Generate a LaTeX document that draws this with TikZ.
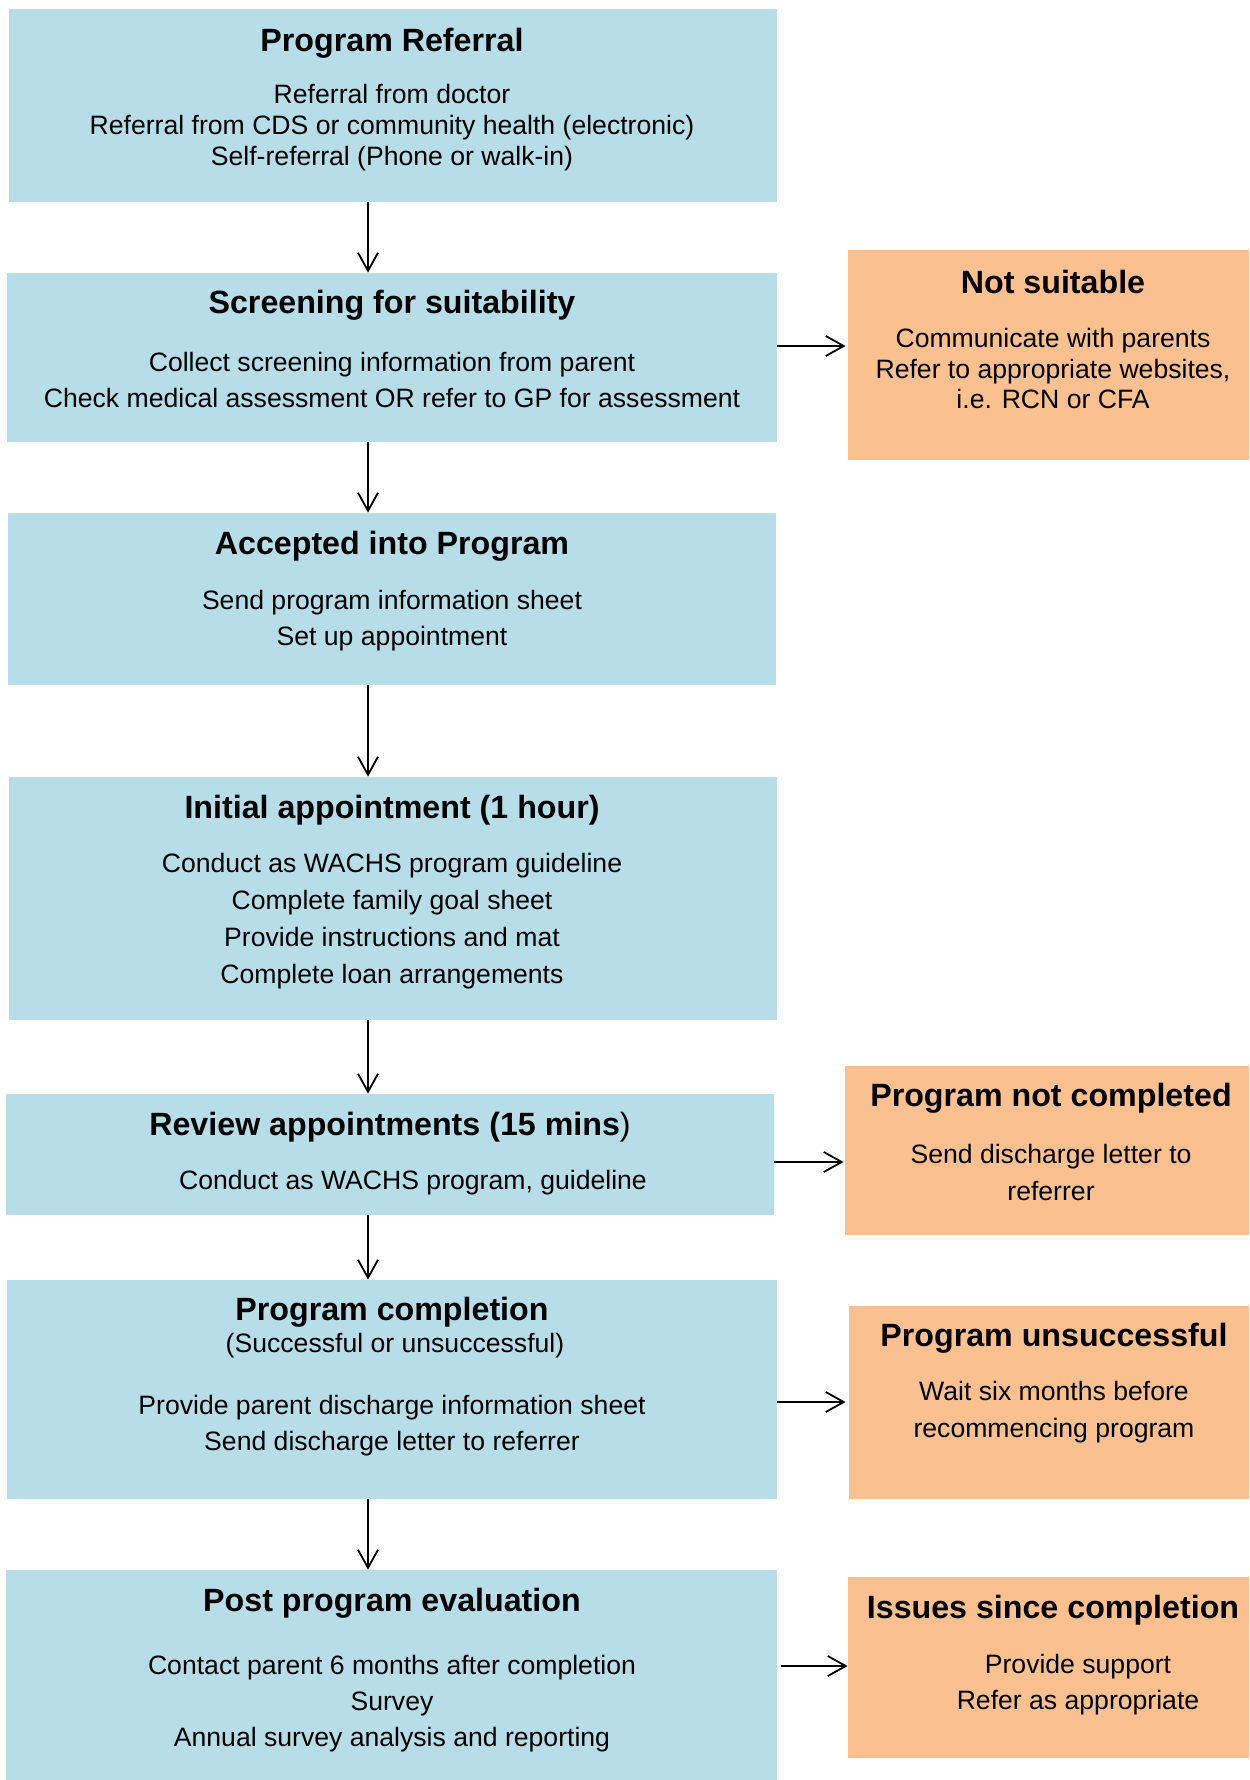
\documentclass[tikz,border=0pt]{standalone}
\usepackage{fontspec}
\setmainfont{Liberation Sans}
\usetikzlibrary{fit,arrows.meta}
\definecolor{boxblue}{HTML}{B7DDE8}
\definecolor{boxorange}{HTML}{FAC090}
\tikzset{
  bluebox/.style={fill=boxblue, draw=none, inner sep=0pt},
  orangebox/.style={fill=boxorange, draw=none, inner sep=0pt},
  ttl/.style={font=\fontsize{16.1}{19}\selectfont\bfseries, inner sep=0pt, anchor=center, yshift=-1.5pt},
  body/.style={font=\fontsize{13.3}{#1}\selectfont, align=center, inner sep=0pt, anchor=center, yshift=-1.5pt},
  arr/.style={draw=black, line width=0.9pt, -{Straight Barb[length=9pt,width=10pt,line width=0.9pt]}}
}
\begin{document}
\begin{tikzpicture}[x=0.5pt,y=-0.5pt]
\useasboundingbox (0,0) rectangle (1249,1780);
% blue boxes
\node[bluebox, fit={(9,9) (777,202)}] (b1) {};
\node[bluebox, fit={(7,273) (777,442)}] (b2) {};
\node[bluebox, fit={(8,513) (776,685)}] (b3) {};
\node[bluebox, fit={(9,777) (777,1020)}] (b4) {};
\node[bluebox, fit={(6,1094) (774,1215)}] (b5) {};
\node[bluebox, fit={(7,1280) (777,1499)}] (b6) {};
\node[bluebox, fit={(6,1570) (777,1780)}] (b7) {};
% orange boxes
\node[orangebox, fit={(848,250) (1249,460)}] (oA) {};
\node[orangebox, fit={(845,1066) (1249,1235)}] (oB) {};
\node[orangebox, fit={(849,1306) (1249,1499)}] (oC) {};
\node[orangebox, fit={(848,1577) (1249,1758)}] (oD) {};
% texts blue
\node[ttl] (t1) at (392,40) {Program Referral};
\node[body=15.5pt] (l1) at (392,125) {Referral from doctor\\Referral from CDS or community health (electronic)\\Self-referral (Phone or walk-in)};
\node[ttl] (t2) at (392,302) {Screening for suitability};
\node[body=18pt] (l2) at (392,377) {Collect screening information from parent\\Check medical assessment OR refer to GP for assessment};
\node[ttl] (t3) at (392,543) {Accepted into Program};
\node[body=18pt] (l3) at (392,618) {Send program information sheet\\Set up appointment};
\node[ttl] (t4) at (392,807) {Initial appointment (1 hour)};
\node[body=18.5pt] (l4) at (392,918.5) {Conduct as WACHS program guideline\\Complete family goal sheet\\Provide instructions and mat\\Complete loan arrangements};
\node[ttl] (t5) at (390,1124) {Review appointments (15 mins\textmd{)}};
\node[body=16pt] (l5) at (413,1180) {Conduct as WACHS program, guideline};
\node[ttl] (t6) at (392,1309) {Program completion};
\node[body=16pt] (s6) at (395,1343) {(Successful or unsuccessful)};
\node[body=18pt] (l6) at (392,1423) {Provide parent discharge information sheet\\Send discharge letter to referrer};
\node[ttl] (t7) at (392,1600) {Post program evaluation};
\node[body=18pt] (l7) at (392,1701) {Contact parent 6 months after completion\\Survey\\Annual survey analysis and reporting};
% texts orange
\node[ttl] (tA) at (1053,279) {Not suitable};
\node[body=15.25pt] (lA) at (1053,365.5) {Communicate with parents\\Refer to appropriate websites,\\i.e. RCN or CFA};
\node[ttl] (tB) at (1051,1095) {Program not completed};
\node[body=18.5pt] (lB) at (1051,1169.5) {Send discharge letter to\\referrer};
\node[ttl] (tC) at (1054,1335) {Program unsuccessful};
\node[body=18.5pt] (lC) at (1054,1409.5) {Wait six months before\\recommencing program};
\node[ttl] (tD) at (1053,1607) {Issues since completion};
\node[body=18pt] (lD) at (1078,1682) {Provide support\\Refer as appropriate};
% connector guides
\coordinate (ax) at (368,0);
\coordinate (rA) at (0,346);
\coordinate (rB) at (0,1162);
\coordinate (rC) at (0,1402);
\coordinate (rD) at (0,1666);
% vertical arrows
\draw[arr] (b1.south -| ax) -- (b2.north -| ax);
\draw[arr] (b2.south -| ax) -- (b3.north -| ax);
\draw[arr] (b3.south -| ax) -- (b4.north -| ax);
\draw[arr] (b4.south -| ax) -- (b5.north -| ax);
\draw[arr] (b5.south -| ax) -- (b6.north -| ax);
\draw[arr] (b6.south -| ax) -- (b7.north -| ax);
% horizontal arrows
\draw[arr, shorten >=1pt] (b2.east |- rA) -- (oA.west |- rA);
\draw[arr, shorten >=0.5pt] (b5.east |- rB) -- (oB.west |- rB);
\draw[arr, shorten >=1.5pt] (b6.east |- rC) -- (oC.west |- rC);
\draw[arr, shorten <=2pt] (b7.east |- rD) -- (oD.west |- rD);
\end{tikzpicture}
\end{document}
